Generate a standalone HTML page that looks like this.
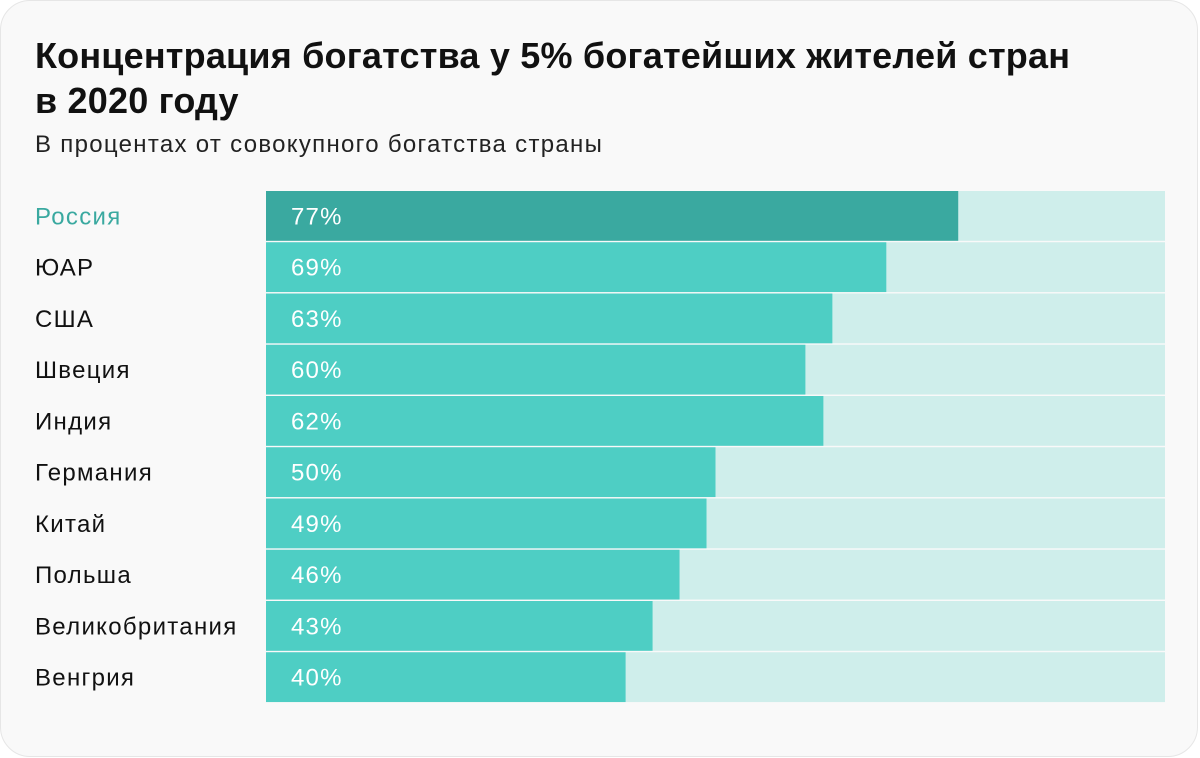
<!DOCTYPE html>
<html><head><meta charset="utf-8"><style>
body{margin:0;width:1200px;height:758px;background:#fff;font-family:"Liberation Sans",sans-serif;}
.card{position:absolute;left:0;top:0;width:1196px;height:755px;background:#f9f9f9;border:1px solid #e6e6e6;border-radius:30px;}
h1{position:absolute;left:35px;top:33px;margin:0;font-size:36px;line-height:45px;font-weight:bold;color:#111;letter-spacing:0.2px;}
.sub{position:absolute;left:35px;top:131px;font-size:24px;color:#222;letter-spacing:1.3px;}
</style></head><body>
<div class="card"></div>
<h1>Концентрация богатства у 5% богатейших жителей стран<br>в 2020 году</h1>
<div class="sub">В процентах от совокупного богатства страны</div>
<svg id="chart" width="1200" height="758" style="position:absolute;left:0;top:0"></svg>
<script>
const categories=["Россия","ЮАР","США","Швеция","Индия","Германия","Китай","Польша","Великобритания","Венгрия"];
const values=[77,69,63,60,62,50,49,46,43,40];
const svg=document.getElementById('chart');
const NS='http://www.w3.org/2000/svg';
const x0=266,fullW=899,y0=191,pitch=51.25,bh=49.8;
const xScale=v=>v/100*fullW;
const yScale=i=>y0+i*pitch;
categories.forEach((c,i)=>{
  const y=yScale(i);
  const bg=document.createElementNS(NS,'rect');
  bg.setAttribute('x',x0);bg.setAttribute('y',y);bg.setAttribute('width',fullW);bg.setAttribute('height',bh);bg.setAttribute('fill','#cfeeeb');
  
  
  svg.appendChild(bg);
  const r=document.createElementNS(NS,'rect');
  r.setAttribute('x',x0);r.setAttribute('y',y);r.setAttribute('width',xScale(values[i]));r.setAttribute('height',bh);
  r.setAttribute('fill',i===0?'#3aa9a0':'#4ecec4');
  
  
  svg.appendChild(r);
  const t=document.createElementNS(NS,'text');
  t.setAttribute('x',291);t.setAttribute('y',y+bh/2+8.5);t.setAttribute('fill','#fff');t.setAttribute('font-size','24');t.setAttribute('letter-spacing','1.2');
  t.textContent=values[i]+'%';
  
  
  svg.appendChild(t);
  const l=document.createElementNS(NS,'text');
  l.setAttribute('x',35);l.setAttribute('y',y+bh/2+8.5);l.setAttribute('fill',i===0?'#3aa9a0':'#111');l.setAttribute('font-size','24');l.setAttribute('letter-spacing','1.3');
  l.textContent=c;
  
  
  svg.appendChild(l);
});
</script>
</body></html>
